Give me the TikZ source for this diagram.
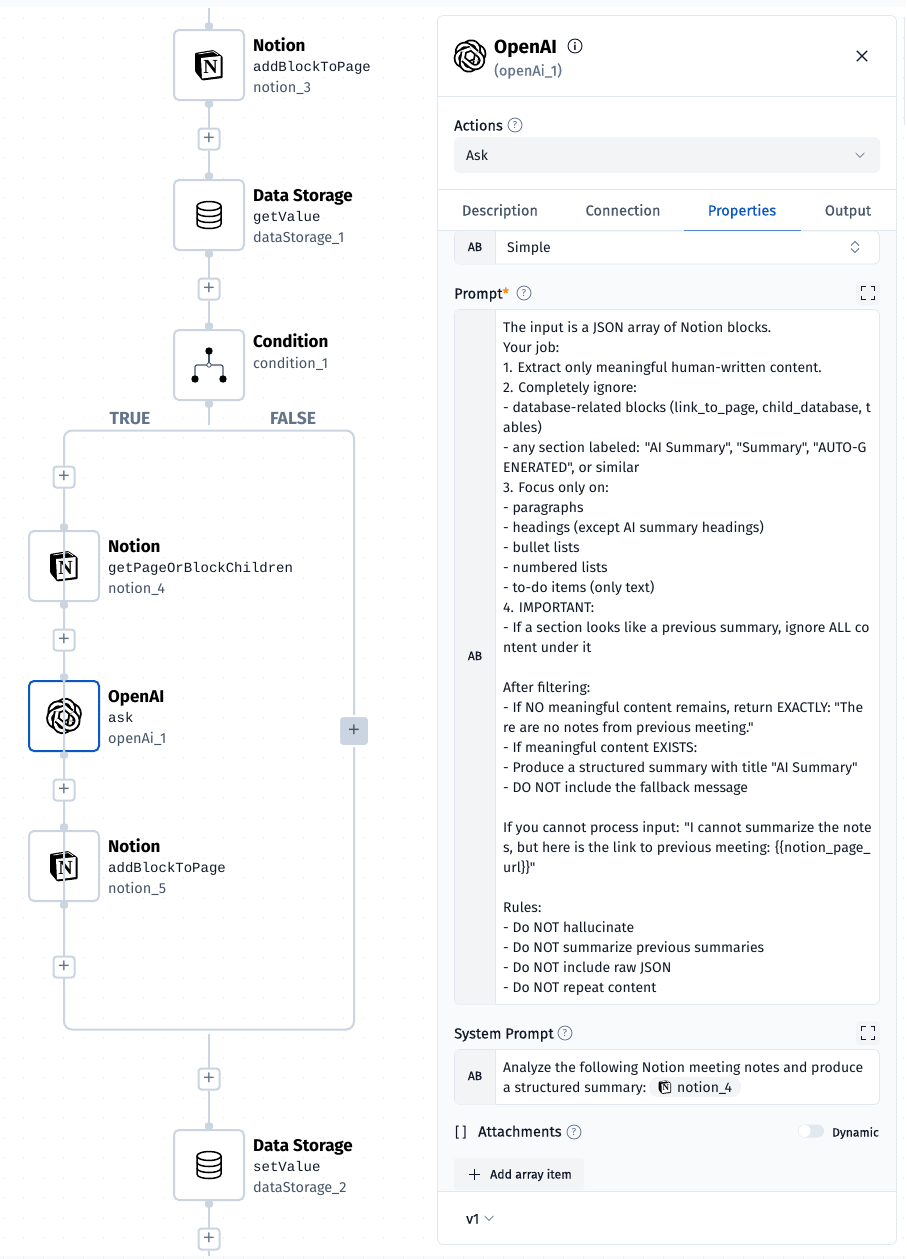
\documentclass[tikz,border=0pt]{standalone}
\usepackage{fontspec}
\setmainfont{Fira Sans}
\newfontfamily\bodyfam{Fira Sans}
\newfontfamily\monofam{Liberation Mono}
\newfontfamily\medfam[FakeBold=0.35]{Fira Sans}
\newfontfamily\plusfam{Liberation Sans}
\newfontfamily\serifbold{Liberation Serif}[BoldFont={Liberation Serif Bold}]
\usetikzlibrary{positioning,calc}

\definecolor{wirecol}{HTML}{CBD5E1}
\definecolor{edgecol}{HTML}{E2E8F0}
\definecolor{bluecol}{HTML}{0B57C4}
\definecolor{mutedcol}{HTML}{64748B}
\definecolor{idcol}{HTML}{475569}
\definecolor{inkcol}{HTML}{111827}
\definecolor{panelcol}{HTML}{F8FAFC}
\definecolor{greycol}{HTML}{F3F4F6}

\newcommand{\sz}[1]{\fontsize{#1}{#1}\selectfont}

\tikzset{
  stepbox/.style={draw=wirecol, line width=2pt, fill=white, rounded corners=5pt, minimum size=70pt, inner sep=0pt},
  activebox/.style={stepbox, draw=bluecol},
  plusbtn/.style={draw=wirecol, line width=2pt, fill=white, rounded corners=3pt, minimum size=21pt, inner sep=0pt, text=mutedcol, font=\plusfam\sz{20}},
  handle/.style={fill=wirecol, rounded corners=2.5pt, minimum width=8pt, minimum height=7pt, inner sep=0pt},
  wire/.style={wirecol, line width=2pt},
  flat/.style={inner sep=0pt, text height=13pt, text depth=2pt},
  steptitle/.style={flat, anchor=west, text=black, font=\sz{17}\bfseries},
  stepaction/.style={flat, anchor=west, text=inkcol, font=\monofam\sz{14}},
  stepid/.style={flat, anchor=west, text=idcol, font=\sz{14.5}},
  fieldlabel/.style={flat, anchor=west, text=inkcol, font=\medfam\sz{14.6}},
  tablabel/.style={flat, text=idcol, font=\medfam\sz{14.6}},
  helpicon/.style={circle, draw=mutedcol, line width=0.8pt, minimum size=14pt, inner sep=0pt, text=mutedcol, font=\sz{10}},
  fieldbox/.style={draw=edgecol, line width=0.8pt, fill=white, rounded corners=5pt},
  sidecell/.style={fill=greycol},
  sidetext/.style={flat, text=inkcol, font=\medfam\sz{12}},
  valuetext/.style={flat, anchor=west, text=inkcol, font=\sz{14}},
  bodytext/.style={anchor=north west, align=left, inner sep=0pt, text=inkcol, font=\bodyfam\fontsize{14}{20}\selectfont},
  branchlabel/.style={flat, text=mutedcol, font=\sz{17.5}\bfseries},
  divider/.style={edgecol, line width=0.6pt},
}

\newcommand{\notionicon}[2][1]{%
  \begin{scope}[shift={(#2)}, scale=#1, transform shape]
    \fill[black, rounded corners=1pt] (-14,-12) -- (4.3,-15) -- (13.7,-8.5) -- (13.7,13) -- (-6.7,15.5) -- (-14,6.5) -- cycle;
    \fill[white] (-8,-7) -- (11.7,-9) -- (11.7,11) -- (-7,13.5) -- cycle;
    \draw[white, line width=0.7pt] (-10.5,-11) -- (4.3,-13.4) -- (9,-10.3);
    \node[inner sep=0pt, text=black, font=\serifbold\bfseries\sz{20}] at (1.7,2.2) {N};
  \end{scope}}

\newcommand{\dbicon}[1]{%
  \begin{scope}[shift={(#1)}, line width=1.5pt, black]
    \draw (0,-9) ellipse (12 and 4.5);
    \draw (-12,-9) -- (-12,9) .. controls (-12,15) and (12,15) .. (12,9) -- (12,-9);
    \draw (-12,-3) .. controls (-12,3) and (12,3) .. (12,-3);
    \draw (-12,3) .. controls (-12,9) and (12,9) .. (12,3);
  \end{scope}}

\newcommand{\condicon}[1]{%
  \begin{scope}[shift={(#1)}, idcol, line width=1.2pt]
    \draw (0,-14) -- (0,0);
    \draw[rounded corners=2pt] (-14,14) -- (-14,0) -- (14,0) -- (14,14);
    \fill[white] (0,0) circle (2.2);
    \draw[line width=0.8pt] (0,0) circle (2.2);
    \fill[black] (0,-14) circle (3.7) (-14,14) circle (3.7) (14,14) circle (3.7);
  \end{scope}}

\newcommand{\aiicon}[2][1]{%
  \begin{scope}[shift={(#2)}, scale=#1]
    \foreach \a in {20,80,140,200,260,320} {
      \begin{scope}[rotate=\a]
        \draw[black, line width=#1*6.4pt] (4,-7) -- (7,-7) .. controls (10.87,-7) and (14,-3.87) .. (14,0) .. controls (14,3.87) and (10.87,7) .. (7,7) -- (-3,7);
        \draw[white, line width=#1*2.8pt] (4,-7) -- (7,-7) .. controls (10.87,-7) and (14,-3.87) .. (14,0) .. controls (14,3.87) and (10.87,7) .. (7,7) -- (-3,7);
      \end{scope}
    }
  \end{scope}}

\newcommand{\chevron}[1]{\draw[mutedcol, line width=0.6pt] ($(#1)+(-4.5,-2.2)$) -- ($(#1)+(0,2.4)$) -- ($(#1)+(4.5,-2.2)$);}

\begin{document}
\begin{tikzpicture}[x=1pt, y=-1pt]
  \useasboundingbox (0,0) rectangle (906,1259);
  \fill[white] (0,0) rectangle (906,1259);
  \fill[panelcol] (0,0) rectangle (906,7);
  \fill[panelcol] (0,1256) rectangle (906,1259);

  % canvas dots
  \foreach \x in {3.5,23.5,...,903.5}
    \foreach \y in {18,38,...,1258}
      \fill[wirecol!70] (\x,\y) circle (0.7);

  % steps
  \foreach \nm/\cx/\cy/\ttl/\act/\idt in {
      notionA/209/65/Notion/addBlockToPage/notion\_3,
      storeA/209/215/Data Storage/getValue/dataStorage\_1,
      notionB/64/566/Notion/getPageOrBlockChildren/notion\_4,
      notionC/64/866/Notion/addBlockToPage/notion\_5,
      storeB/209/1165/Data Storage/setValue/dataStorage\_2} {
    \node[stepbox] (\nm) at (\cx,\cy) {};
    \node[steptitle] (\nm title) at (\cx+44,\cy-19) {\ttl};
    \node[stepaction] (\nm action) at (\cx+44,\cy+1) {\act};
    \node[stepid] (\nm id) at (\cx+44,\cy+22) {\idt};
  }
  \node[stepbox] (condA) at (209,365) {};
  \node[steptitle] (condAtitle) at (253,342) {Condition};
  \node[stepid] (condAid) at (253,363) {condition\_1};
  \node[activebox] (aiA) at (64,716) {};
  \node[steptitle] (aiAtitle) at (108,697) {OpenAI};
  \node[stepaction] (aiAaction) at (108,717) {ask};
  \node[stepid] (aiAid) at (108,738) {openAi\_1};

  \foreach \nm in {notionA,storeA,condA,notionB,aiA,notionC,storeB} {
    \node[handle] (\nm top) at ([yshift=3pt]\nm.north) {};
    \node[handle] (\nm bot) at ([yshift=-3pt]\nm.south) {};
  }

  \notionicon{notionA}
  \notionicon{notionB}
  \notionicon{notionC}
  \dbicon{storeA}
  \dbicon{storeB}
  \condicon{condA}
  \aiicon[1.06]{aiA}

  % branch frame
  \draw[wire, rounded corners=8pt] (64,430.5) rectangle (354,1029.5);
  \coordinate (topIn) at (209,8);
  \coordinate (botOut) at (209,1256);
  \coordinate (condOut) at (209,425);
  \coordinate (frameOut) at (209,1034);
  \coordinate (frameTop) at (64,440);
  \coordinate (frameBot) at (64,1020);

  \node[plusbtn] (plusA) at (209,139) {+};
  \node[plusbtn] (plusB) at (209,289) {+};
  \node[plusbtn] (plusC) at (64,477) {+};
  \node[plusbtn] (plusD) at (64,640) {+};
  \node[plusbtn] (plusE) at (64,790) {+};
  \node[plusbtn] (plusF) at (64,967) {+};
  \node[plusbtn] (plusG) at (209,1079) {+};
  \node[plusbtn] (plusH) at (209,1239) {+};
  \node[draw=white, line width=2pt, fill=wirecol, rounded corners=4pt, minimum size=30pt, inner sep=0pt, text=idcol, font=\plusfam\sz{20}] (plusFalse) at (354,731) {+};

  \draw[wire] (topIn) -- (notionA);
  \draw[wire] (notionA) -- (plusA);
  \draw[wire] (plusA) -- (storeA);
  \draw[wire] (storeA) -- (plusB);
  \draw[wire] (plusB) -- (condA);
  \draw[wire] (condA) -- (condOut);
  \draw[wire] (frameTop) -- (plusC);
  \draw[wire] (plusC) -- (notionB);
  \draw[wire] (notionB) -- (plusD);
  \draw[wire] (plusD) -- (aiA);
  \draw[wire] (aiA) -- (plusE);
  \draw[wire] (plusE) -- (notionC);
  \draw[wire] (notionC) -- (plusF);
  \draw[wire] (plusF) -- (frameBot);
  \draw[wire] (frameOut) -- (plusG);
  \draw[wire] (plusG) -- (storeB);
  \draw[wire] (storeB) -- (plusH);
  \draw[wire] (plusH) -- (botOut);

  \node[branchlabel] (trueLabel) at (130,419) {TRUE};
  \node[branchlabel] (falseLabel) at (293,419) {FALSE};

  % side panel
  \draw[edgecol, line width=0.8pt, fill=white, rounded corners=6pt] (437.5,15.5) rectangle (896.5,1244.5);
  \fill[panelcol] (438,231) rectangle (896,1191);
  \draw[divider] (438,96.5) -- (896,96.5);
  \draw[divider] (438,189.5) -- (896,189.5);
  \draw[divider] (438,230.5) -- (896,230.5);
  \draw[divider] (438,1191) -- (896,1191);
  \draw[edgecol, line width=0.8pt] (904.5,17) -- (904.5,125);

  \aiicon[0.97]{470,56}
  \node[flat, anchor=west, text=black, font=\sz{19}\bfseries] (panelTitle) at (494,48) {OpenAI};
  \node[flat, anchor=west, text=mutedcol, font=\medfam\sz{14.5}] (panelId) at (494,70) {(openAi\_1)};
  \node[circle, draw=inkcol, line width=0.9pt, minimum size=14pt, inner sep=0pt, text=inkcol, font=\sz{10}\bfseries] (panelInfo) at (575,46) {i};
  \node[inner sep=0pt, minimum size=10pt] (panelClose) at (862,56) {};
  \draw[inkcol, line width=1.1pt] (panelClose.north west) -- (panelClose.south east) (panelClose.north east) -- (panelClose.south west);

  \node[fieldlabel] (actionsLabel) at (454,125) {Actions};
  \node[helpicon] (actionsHelp) at (515,125) {?};
  \node[fill=greycol, rounded corners=6pt, minimum width=426pt, minimum height=36pt, inner sep=0pt] (actionsBox) at (667,155) {};
  \node[valuetext] (actionsValue) at (466,155) {Ask};
  \coordinate (actionsChev) at (860,155);
  \chevron{actionsChev}

  \node[tablabel] (tabDesc) at (500,210) {Description};
  \node[tablabel] (tabConn) at (623,210) {Connection};
  \node[tablabel, text=bluecol] (tabProp) at (742,210) {Properties};
  \node[tablabel] (tabOut) at (848,210) {Output};
  \draw[bluecol, line width=1pt] (684,230.5) -- (801,230.5);

  % mode box
  \draw[fieldbox] (454.5,231) rectangle (879.5,264);
  \begin{scope}
    \clip[rounded corners=5pt] (454.5,231) rectangle (879.5,264);
    \fill[sidecell] (454.5,231) rectangle (495.5,264);
  \end{scope}
  \draw[divider] (495.5,231) -- (495.5,264);
  \node[sidetext] (modeSide) at (475,245.5) {AB};
  \node[valuetext] (modeValue) at (507,247) {Simple};
  \node[inner sep=0pt, minimum width=8pt, minimum height=12pt] (modeArrows) at (855,247) {};
  \draw[mutedcol, line width=0.8pt] ([xshift=-4pt,yshift=1.5pt]modeArrows.center) -- ++(4pt,4pt) -- ++(4pt,-4pt);
  \draw[mutedcol, line width=0.8pt] ([xshift=-4pt,yshift=-1.5pt]modeArrows.center) -- ++(4pt,-4pt) -- ++(4pt,4pt);

  % prompt
  \node[fieldlabel] (promptLabel) at (454,293) {Prompt\textcolor{orange}{*}};
  \node[helpicon] (promptHelp) at (524,293) {?};
  \draw[fieldbox] (454.5,309.5) rectangle (879.5,1004.5);
  \begin{scope}
    \clip[rounded corners=5pt] (454.5,309.5) rectangle (879.5,1004.5);
    \fill[sidecell] (454.5,309.5) rectangle (495.5,1004.5);
  \end{scope}
  \draw[divider] (495.5,309.5) -- (495.5,1004.5);
  \node[sidetext] (promptSide) at (475,654.5) {AB};
  \node[bodytext] (promptText) at (503,321) {The input is a JSON array of Notion blocks.\\
Your job:\\
1. Extract only meaningful human-written content.\\
2. Completely ignore:\\
- database-related blocks (link\_to\_page, child\_database, t\\
ables)\\
- any section labeled: "AI Summary", "Summary", "AUTO-G\\
ENERATED", or similar\\
3. Focus only on:\\
- paragraphs\\
- headings (except AI summary headings)\\
- bullet lists\\
- numbered lists\\
- to-do items (only text)\\
4. IMPORTANT:\\
- If a section looks like a previous summary, ignore ALL co\\
ntent under it\\
\strut\\
After filtering:\\
- If NO meaningful content remains, return EXACTLY: "The\\
re are no notes from previous meeting."\\
- If meaningful content EXISTS:\\
- Produce a structured summary with title "AI Summary"\\
- DO NOT include the fallback message\\
\strut\\
If you cannot process input: "I cannot summarize the note\\
s, but here is the link to previous meeting: \{\{notion\_page\_\\
url\}\}"\\
\strut\\
Rules:\\
- Do NOT hallucinate\\
- Do NOT summarize previous summaries\\
- Do NOT include raw JSON\\
- Do NOT repeat content};

  % system prompt
  \node[fieldlabel] (systemLabel) at (454,1033) {System Prompt};
  \node[helpicon] (systemHelp) at (565,1033) {?};
  \draw[fieldbox] (454.5,1049.5) rectangle (879.5,1104.5);
  \begin{scope}
    \clip[rounded corners=5pt] (454.5,1049.5) rectangle (879.5,1104.5);
    \fill[sidecell] (454.5,1049.5) rectangle (495.5,1104.5);
  \end{scope}
  \draw[divider] (495.5,1049.5) -- (495.5,1104.5);
  \node[sidetext] (systemSide) at (475,1074.5) {AB};
  \node[bodytext] (systemText) at (503,1061) {Analyze the following Notion meeting notes and produce\\a structured summary:};
  \node[fill=greycol, rounded corners=9pt, minimum width=92pt, minimum height=20pt, inner sep=0pt] (chipBox) at (695,1087) {};
  \notionicon[0.45]{665,1087}
  \node[valuetext] (chipText) at (677,1087) {notion\_4};

  % expand buttons
  \foreach \nm/\cy in {expandA/293,expandB/1033} {
    \node[fill=greycol, rounded corners=4pt, minimum size=24pt, inner sep=0pt] (\nm) at (868,\cy) {};
    \foreach \sx/\sy in {-1/-1,1/-1,-1/1,1/1}
      \draw[inkcol, line width=1.2pt] (868+\sx*6.5,\cy+\sy*2.5) -- (868+\sx*6.5,\cy+\sy*6.5) -- (868+\sx*2.5,\cy+\sy*6.5);
  }

  % attachments
  \node[valuetext] (attBracket) at (455,1132) {[\,]};
  \node[fieldlabel] (attLabel) at (478,1131) {Attachments};
  \node[helpicon] (attHelp) at (574,1132) {?};
  \node[fill=edgecol, rounded corners=6.5pt, minimum width=26pt, minimum height=13pt, inner sep=0pt] (toggle) at (811,1131) {};
  \fill[white] (804.5,1131) circle (6);
  \node[flat, anchor=west, text=inkcol, font=\medfam\sz{12}] (dynLabel) at (832,1131) {Dynamic};
  \node[fill=greycol, rounded corners=3pt, minimum width=130pt, minimum height=32pt, inner sep=0pt] (addBox) at (519,1174) {};
  \draw[inkcol, line width=1pt] (474,1168.5) -- (474,1179.5) (468.5,1174) -- (479.5,1174);
  \node[flat, anchor=west, text=inkcol, font=\medfam\sz{12.3}] (addLabel) at (490,1173) {Add array item};

  % footer
  \node[flat, anchor=west, text=inkcol, font=\medfam\sz{14}] (versionLabel) at (466,1218) {v1};
  \coordinate (versionChev) at (489,1218);
  \chevron{versionChev}
\end{tikzpicture}
\end{document}
